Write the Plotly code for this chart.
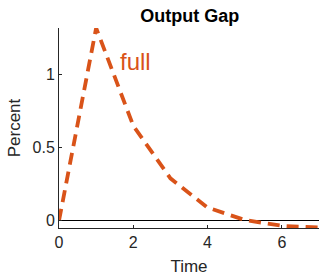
import plotly.graph_objects as go

time = [0, 1, 2, 3, 4, 5, 6, 7]
output_gap = [0, 1.32, 0.65, 0.29, 0.09, 0.005, -0.035, -0.047]
x_ticks = [0, 2, 4, 6]
y_ticks = [0, 0.5, 1]
y_tick_labels = ["0", "0.5", "1"]
series_label = "full"
title_text = "Output Gap"

orange = "#D95319"
axis_col = "#262626"
font_family = "Liberation Sans, Arial, sans-serif"

fig = go.Figure()
fig.add_trace(go.Scatter(
    x=time, y=output_gap, mode="lines",
    line=dict(color=orange, width=3.8, dash="12px,7px"),
    showlegend=False, hoverinfo="skip",
))
fig.add_annotation(
    x=1.6, y=1.09, xref="x", yref="y", text=series_label,
    showarrow=False, xanchor="left", yanchor="middle",
    font=dict(family=font_family, size=24, color=orange),
)
fig.update_layout(
    width=319, height=277,
    margin=dict(l=59, r=0, t=28, b=49),
    paper_bgcolor="white", plot_bgcolor="white",
    font=dict(family=font_family, size=16, color=axis_col),
    title=dict(text="<b>" + title_text + "</b>", x=0.595, xanchor="center",
               y=0.945, yanchor="middle",
               font=dict(family=font_family, size=18, color="black")),
)
fig.update_xaxes(
    range=[0, 7], tickvals=x_ticks, ticks="inside", ticklen=3,
    tickcolor=axis_col, showline=True, linecolor=axis_col, linewidth=1,
    showgrid=False, zeroline=False, mirror=False,
    title=dict(text="Time", standoff=9, font=dict(size=17)),
    tickfont=dict(size=16),
)
fig.update_yaxes(
    range=[-0.05, 1.32], tickvals=y_ticks, ticktext=y_tick_labels,
    ticks="inside", ticklen=3, tickcolor=axis_col,
    showline=True, linecolor=axis_col, linewidth=1,
    showgrid=False, zeroline=True, zerolinecolor="black", zerolinewidth=1,
    title=dict(text="Percent", standoff=7, font=dict(size=17)),
    tickfont=dict(size=16),
)
fig.write_html("out.html", post_script="document.body.style.margin='0';",
               config={"displayModeBar": False})
